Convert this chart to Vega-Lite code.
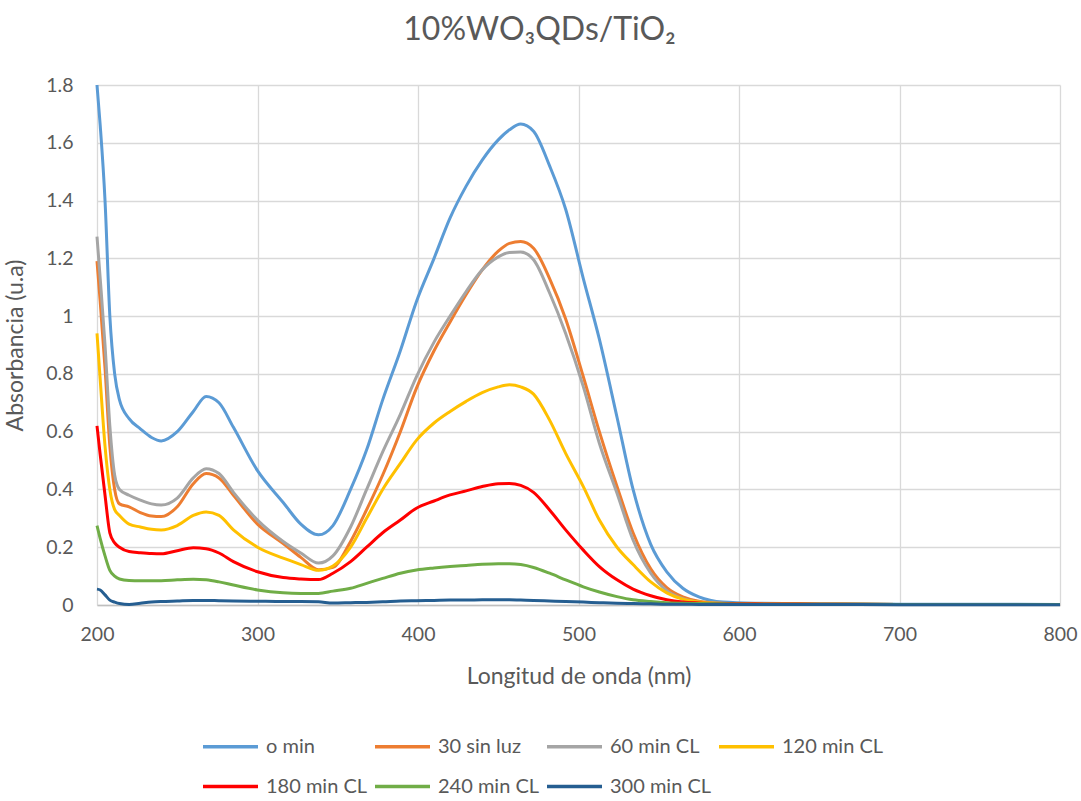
{
"$schema": "https://vega.github.io/schema/vega-lite/v6.json",
"width": 963, "height": 520,
"autosize": {"type": "none"},
"padding": {"left": 97, "top": 85, "right": 21, "bottom": 196},
"background": "white",
"config": {"view": {"stroke": null}, "font": "Lato"},
"title": {"text": "10%WO₃QDs/TiO₂", "font": "Lato", "fontSize": 32, "fontWeight": "normal", "color": "#595959", "anchor": "middle", "frame": "group", "dx": -39, "offset": 28},
"datasets": {"d": [
{"serie":"o min","nm":200,"abs":1.80},{"serie":"o min","nm":202,"abs":1.66},{"serie":"o min","nm":205,"abs":1.40},{"serie":"o min","nm":208,"abs":1.00},{"serie":"o min","nm":211,"abs":0.80},{"serie":"o min","nm":214,"abs":0.71},{"serie":"o min","nm":220,"abs":0.645},{"serie":"o min","nm":227,"abs":0.61},{"serie":"o min","nm":234,"abs":0.58},{"serie":"o min","nm":240,"abs":0.568},{"serie":"o min","nm":250,"abs":0.60},{"serie":"o min","nm":260,"abs":0.67},{"serie":"o min","nm":268,"abs":0.722},{"serie":"o min","nm":276,"abs":0.70},{"serie":"o min","nm":285,"abs":0.615},{"serie":"o min","nm":300,"abs":0.465},{"serie":"o min","nm":316,"abs":0.355},{"serie":"o min","nm":327,"abs":0.28},{"serie":"o min","nm":338,"abs":0.243},{"serie":"o min","nm":347,"abs":0.275},{"serie":"o min","nm":358,"abs":0.40},{"serie":"o min","nm":368,"abs":0.537},{"serie":"o min","nm":378,"abs":0.71},{"serie":"o min","nm":389,"abs":0.88},{"serie":"o min","nm":399,"abs":1.05},{"serie":"o min","nm":410,"abs":1.20},{"serie":"o min","nm":420,"abs":1.34},{"serie":"o min","nm":430,"abs":1.45},{"serie":"o min","nm":440,"abs":1.54},{"serie":"o min","nm":450,"abs":1.61},{"serie":"o min","nm":457,"abs":1.645},{"serie":"o min","nm":464,"abs":1.665},{"serie":"o min","nm":472,"abs":1.64},{"serie":"o min","nm":482,"abs":1.52},{"serie":"o min","nm":492,"abs":1.37},{"serie":"o min","nm":503,"abs":1.13},{"serie":"o min","nm":513,"abs":0.92},{"serie":"o min","nm":524,"abs":0.65},{"serie":"o min","nm":534,"abs":0.40},{"serie":"o min","nm":545,"abs":0.21},{"serie":"o min","nm":555,"abs":0.115},{"serie":"o min","nm":565,"abs":0.058},{"serie":"o min","nm":575,"abs":0.028},{"serie":"o min","nm":590,"abs":0.01},{"serie":"o min","nm":610,"abs":0.006},{"serie":"o min","nm":650,"abs":0.004},{"serie":"o min","nm":700,"abs":0.003},{"serie":"o min","nm":750,"abs":0.003},{"serie":"o min","nm":800,"abs":0.002},
{"serie":"30 sin luz","nm":200,"abs":1.19},{"serie":"30 sin luz","nm":202,"abs":1.05},{"serie":"30 sin luz","nm":205,"abs":0.82},{"serie":"30 sin luz","nm":208,"abs":0.55},{"serie":"30 sin luz","nm":211,"abs":0.40},{"serie":"30 sin luz","nm":214,"abs":0.35},{"serie":"30 sin luz","nm":220,"abs":0.34},{"serie":"30 sin luz","nm":227,"abs":0.32},{"serie":"30 sin luz","nm":234,"abs":0.308},{"serie":"30 sin luz","nm":240,"abs":0.306},{"serie":"30 sin luz","nm":250,"abs":0.34},{"serie":"30 sin luz","nm":260,"abs":0.42},{"serie":"30 sin luz","nm":268,"abs":0.455},{"serie":"30 sin luz","nm":276,"abs":0.44},{"serie":"30 sin luz","nm":285,"abs":0.38},{"serie":"30 sin luz","nm":300,"abs":0.28},{"serie":"30 sin luz","nm":316,"abs":0.213},{"serie":"30 sin luz","nm":327,"abs":0.165},{"serie":"30 sin luz","nm":338,"abs":0.122},{"serie":"30 sin luz","nm":347,"abs":0.13},{"serie":"30 sin luz","nm":358,"abs":0.22},{"serie":"30 sin luz","nm":368,"abs":0.33},{"serie":"30 sin luz","nm":378,"abs":0.45},{"serie":"30 sin luz","nm":389,"abs":0.60},{"serie":"30 sin luz","nm":399,"abs":0.75},{"serie":"30 sin luz","nm":410,"abs":0.88},{"serie":"30 sin luz","nm":420,"abs":0.98},{"serie":"30 sin luz","nm":430,"abs":1.075},{"serie":"30 sin luz","nm":440,"abs":1.16},{"serie":"30 sin luz","nm":450,"abs":1.225},{"serie":"30 sin luz","nm":457,"abs":1.252},{"serie":"30 sin luz","nm":464,"abs":1.258},{"serie":"30 sin luz","nm":472,"abs":1.235},{"serie":"30 sin luz","nm":482,"abs":1.13},{"serie":"30 sin luz","nm":492,"abs":0.99},{"serie":"30 sin luz","nm":503,"abs":0.79},{"serie":"30 sin luz","nm":513,"abs":0.60},{"serie":"30 sin luz","nm":524,"abs":0.41},{"serie":"30 sin luz","nm":534,"abs":0.25},{"serie":"30 sin luz","nm":545,"abs":0.125},{"serie":"30 sin luz","nm":555,"abs":0.06},{"serie":"30 sin luz","nm":565,"abs":0.028},{"serie":"30 sin luz","nm":575,"abs":0.013},{"serie":"30 sin luz","nm":590,"abs":0.006},{"serie":"30 sin luz","nm":610,"abs":0.004},{"serie":"30 sin luz","nm":650,"abs":0.003},{"serie":"30 sin luz","nm":700,"abs":0.002},{"serie":"30 sin luz","nm":750,"abs":0.002},{"serie":"30 sin luz","nm":800,"abs":0.002},
{"serie":"60 min CL","nm":200,"abs":1.275},{"serie":"60 min CL","nm":202,"abs":1.13},{"serie":"60 min CL","nm":205,"abs":0.90},{"serie":"60 min CL","nm":208,"abs":0.62},{"serie":"60 min CL","nm":211,"abs":0.45},{"serie":"60 min CL","nm":214,"abs":0.40},{"serie":"60 min CL","nm":220,"abs":0.38},{"serie":"60 min CL","nm":227,"abs":0.363},{"serie":"60 min CL","nm":234,"abs":0.35},{"serie":"60 min CL","nm":240,"abs":0.346},{"serie":"60 min CL","nm":250,"abs":0.37},{"serie":"60 min CL","nm":260,"abs":0.44},{"serie":"60 min CL","nm":268,"abs":0.472},{"serie":"60 min CL","nm":276,"abs":0.455},{"serie":"60 min CL","nm":285,"abs":0.39},{"serie":"60 min CL","nm":300,"abs":0.294},{"serie":"60 min CL","nm":316,"abs":0.22},{"serie":"60 min CL","nm":327,"abs":0.18},{"serie":"60 min CL","nm":338,"abs":0.145},{"serie":"60 min CL","nm":347,"abs":0.17},{"serie":"60 min CL","nm":358,"abs":0.27},{"serie":"60 min CL","nm":368,"abs":0.40},{"serie":"60 min CL","nm":378,"abs":0.53},{"serie":"60 min CL","nm":389,"abs":0.66},{"serie":"60 min CL","nm":399,"abs":0.79},{"serie":"60 min CL","nm":410,"abs":0.91},{"serie":"60 min CL","nm":420,"abs":1.00},{"serie":"60 min CL","nm":430,"abs":1.085},{"serie":"60 min CL","nm":440,"abs":1.16},{"serie":"60 min CL","nm":450,"abs":1.205},{"serie":"60 min CL","nm":457,"abs":1.22},{"serie":"60 min CL","nm":464,"abs":1.222},{"serie":"60 min CL","nm":472,"abs":1.195},{"serie":"60 min CL","nm":482,"abs":1.08},{"serie":"60 min CL","nm":492,"abs":0.94},{"serie":"60 min CL","nm":503,"abs":0.756},{"serie":"60 min CL","nm":513,"abs":0.56},{"serie":"60 min CL","nm":524,"abs":0.387},{"serie":"60 min CL","nm":534,"abs":0.225},{"serie":"60 min CL","nm":545,"abs":0.11},{"serie":"60 min CL","nm":555,"abs":0.05},{"serie":"60 min CL","nm":565,"abs":0.022},{"serie":"60 min CL","nm":575,"abs":0.01},{"serie":"60 min CL","nm":590,"abs":0.005},{"serie":"60 min CL","nm":610,"abs":0.004},{"serie":"60 min CL","nm":650,"abs":0.003},{"serie":"60 min CL","nm":700,"abs":0.002},{"serie":"60 min CL","nm":750,"abs":0.002},{"serie":"60 min CL","nm":800,"abs":0.002},
{"serie":"120 min CL","nm":200,"abs":0.94},{"serie":"120 min CL","nm":202,"abs":0.78},{"serie":"120 min CL","nm":205,"abs":0.55},{"serie":"120 min CL","nm":208,"abs":0.40},{"serie":"120 min CL","nm":211,"abs":0.33},{"serie":"120 min CL","nm":214,"abs":0.31},{"serie":"120 min CL","nm":220,"abs":0.28},{"serie":"120 min CL","nm":227,"abs":0.27},{"serie":"120 min CL","nm":234,"abs":0.262},{"serie":"120 min CL","nm":240,"abs":0.26},{"serie":"120 min CL","nm":250,"abs":0.275},{"serie":"120 min CL","nm":260,"abs":0.31},{"serie":"120 min CL","nm":268,"abs":0.322},{"serie":"120 min CL","nm":276,"abs":0.31},{"serie":"120 min CL","nm":285,"abs":0.26},{"serie":"120 min CL","nm":300,"abs":0.20},{"serie":"120 min CL","nm":316,"abs":0.162},{"serie":"120 min CL","nm":327,"abs":0.14},{"serie":"120 min CL","nm":338,"abs":0.12},{"serie":"120 min CL","nm":347,"abs":0.135},{"serie":"120 min CL","nm":358,"abs":0.20},{"serie":"120 min CL","nm":368,"abs":0.30},{"serie":"120 min CL","nm":378,"abs":0.40},{"serie":"120 min CL","nm":389,"abs":0.49},{"serie":"120 min CL","nm":399,"abs":0.57},{"serie":"120 min CL","nm":410,"abs":0.63},{"serie":"120 min CL","nm":420,"abs":0.67},{"serie":"120 min CL","nm":430,"abs":0.705},{"serie":"120 min CL","nm":440,"abs":0.735},{"serie":"120 min CL","nm":450,"abs":0.755},{"serie":"120 min CL","nm":457,"abs":0.762},{"serie":"120 min CL","nm":464,"abs":0.755},{"serie":"120 min CL","nm":472,"abs":0.73},{"serie":"120 min CL","nm":482,"abs":0.64},{"serie":"120 min CL","nm":492,"abs":0.525},{"serie":"120 min CL","nm":503,"abs":0.41},{"serie":"120 min CL","nm":513,"abs":0.294},{"serie":"120 min CL","nm":524,"abs":0.20},{"serie":"120 min CL","nm":534,"abs":0.14},{"serie":"120 min CL","nm":545,"abs":0.08},{"serie":"120 min CL","nm":555,"abs":0.042},{"serie":"120 min CL","nm":565,"abs":0.02},{"serie":"120 min CL","nm":575,"abs":0.01},{"serie":"120 min CL","nm":590,"abs":0.005},{"serie":"120 min CL","nm":610,"abs":0.004},{"serie":"120 min CL","nm":650,"abs":0.003},{"serie":"120 min CL","nm":700,"abs":0.002},{"serie":"120 min CL","nm":750,"abs":0.002},{"serie":"120 min CL","nm":800,"abs":0.002},
{"serie":"180 min CL","nm":200,"abs":0.62},{"serie":"180 min CL","nm":202,"abs":0.52},{"serie":"180 min CL","nm":205,"abs":0.38},{"serie":"180 min CL","nm":208,"abs":0.25},{"serie":"180 min CL","nm":211,"abs":0.215},{"serie":"180 min CL","nm":214,"abs":0.20},{"serie":"180 min CL","nm":220,"abs":0.185},{"serie":"180 min CL","nm":227,"abs":0.181},{"serie":"180 min CL","nm":234,"abs":0.178},{"serie":"180 min CL","nm":240,"abs":0.177},{"serie":"180 min CL","nm":250,"abs":0.188},{"serie":"180 min CL","nm":260,"abs":0.198},{"serie":"180 min CL","nm":268,"abs":0.195},{"serie":"180 min CL","nm":276,"abs":0.18},{"serie":"180 min CL","nm":285,"abs":0.15},{"serie":"180 min CL","nm":300,"abs":0.115},{"serie":"180 min CL","nm":316,"abs":0.095},{"serie":"180 min CL","nm":327,"abs":0.09},{"serie":"180 min CL","nm":338,"abs":0.088},{"serie":"180 min CL","nm":347,"abs":0.11},{"serie":"180 min CL","nm":358,"abs":0.15},{"serie":"180 min CL","nm":368,"abs":0.20},{"serie":"180 min CL","nm":378,"abs":0.25},{"serie":"180 min CL","nm":389,"abs":0.294},{"serie":"180 min CL","nm":399,"abs":0.335},{"serie":"180 min CL","nm":410,"abs":0.36},{"serie":"180 min CL","nm":420,"abs":0.381},{"serie":"180 min CL","nm":430,"abs":0.395},{"serie":"180 min CL","nm":440,"abs":0.41},{"serie":"180 min CL","nm":450,"abs":0.42},{"serie":"180 min CL","nm":457,"abs":0.421},{"serie":"180 min CL","nm":464,"abs":0.414},{"serie":"180 min CL","nm":472,"abs":0.39},{"serie":"180 min CL","nm":482,"abs":0.329},{"serie":"180 min CL","nm":492,"abs":0.26},{"serie":"180 min CL","nm":503,"abs":0.19},{"serie":"180 min CL","nm":513,"abs":0.133},{"serie":"180 min CL","nm":524,"abs":0.087},{"serie":"180 min CL","nm":534,"abs":0.055},{"serie":"180 min CL","nm":545,"abs":0.032},{"serie":"180 min CL","nm":555,"abs":0.018},{"serie":"180 min CL","nm":565,"abs":0.01},{"serie":"180 min CL","nm":575,"abs":0.007},{"serie":"180 min CL","nm":590,"abs":0.005},{"serie":"180 min CL","nm":610,"abs":0.004},{"serie":"180 min CL","nm":650,"abs":0.003},{"serie":"180 min CL","nm":700,"abs":0.002},{"serie":"180 min CL","nm":750,"abs":0.002},{"serie":"180 min CL","nm":800,"abs":0.002},
{"serie":"240 min CL","nm":200,"abs":0.275},{"serie":"240 min CL","nm":202,"abs":0.23},{"serie":"240 min CL","nm":205,"abs":0.17},{"serie":"240 min CL","nm":208,"abs":0.12},{"serie":"240 min CL","nm":211,"abs":0.10},{"serie":"240 min CL","nm":214,"abs":0.09},{"serie":"240 min CL","nm":220,"abs":0.085},{"serie":"240 min CL","nm":227,"abs":0.084},{"serie":"240 min CL","nm":234,"abs":0.084},{"serie":"240 min CL","nm":240,"abs":0.084},{"serie":"240 min CL","nm":250,"abs":0.087},{"serie":"240 min CL","nm":260,"abs":0.089},{"serie":"240 min CL","nm":268,"abs":0.087},{"serie":"240 min CL","nm":276,"abs":0.08},{"serie":"240 min CL","nm":285,"abs":0.069},{"serie":"240 min CL","nm":300,"abs":0.052},{"serie":"240 min CL","nm":316,"abs":0.042},{"serie":"240 min CL","nm":327,"abs":0.04},{"serie":"240 min CL","nm":338,"abs":0.04},{"serie":"240 min CL","nm":347,"abs":0.048},{"serie":"240 min CL","nm":358,"abs":0.058},{"serie":"240 min CL","nm":368,"abs":0.075},{"serie":"240 min CL","nm":378,"abs":0.092},{"serie":"240 min CL","nm":389,"abs":0.11},{"serie":"240 min CL","nm":399,"abs":0.121},{"serie":"240 min CL","nm":410,"abs":0.128},{"serie":"240 min CL","nm":420,"abs":0.133},{"serie":"240 min CL","nm":430,"abs":0.137},{"serie":"240 min CL","nm":440,"abs":0.141},{"serie":"240 min CL","nm":450,"abs":0.143},{"serie":"240 min CL","nm":457,"abs":0.143},{"serie":"240 min CL","nm":464,"abs":0.14},{"serie":"240 min CL","nm":472,"abs":0.13},{"serie":"240 min CL","nm":482,"abs":0.11},{"serie":"240 min CL","nm":492,"abs":0.087},{"serie":"240 min CL","nm":503,"abs":0.063},{"serie":"240 min CL","nm":513,"abs":0.045},{"serie":"240 min CL","nm":524,"abs":0.029},{"serie":"240 min CL","nm":534,"abs":0.018},{"serie":"240 min CL","nm":545,"abs":0.012},{"serie":"240 min CL","nm":555,"abs":0.008},{"serie":"240 min CL","nm":565,"abs":0.006},{"serie":"240 min CL","nm":575,"abs":0.005},{"serie":"240 min CL","nm":590,"abs":0.004},{"serie":"240 min CL","nm":610,"abs":0.003},{"serie":"240 min CL","nm":650,"abs":0.003},{"serie":"240 min CL","nm":700,"abs":0.002},{"serie":"240 min CL","nm":750,"abs":0.002},{"serie":"240 min CL","nm":800,"abs":0.002},
{"serie":"300 min CL","nm":200,"abs":0.055},{"serie":"300 min CL","nm":202,"abs":0.052},{"serie":"300 min CL","nm":205,"abs":0.035},{"serie":"300 min CL","nm":208,"abs":0.017},{"serie":"300 min CL","nm":211,"abs":0.01},{"serie":"300 min CL","nm":214,"abs":0.005},{"serie":"300 min CL","nm":220,"abs":0.002},{"serie":"300 min CL","nm":227,"abs":0.006},{"serie":"300 min CL","nm":234,"abs":0.01},{"serie":"300 min CL","nm":240,"abs":0.012},{"serie":"300 min CL","nm":250,"abs":0.014},{"serie":"300 min CL","nm":260,"abs":0.016},{"serie":"300 min CL","nm":268,"abs":0.016},{"serie":"300 min CL","nm":276,"abs":0.015},{"serie":"300 min CL","nm":285,"abs":0.014},{"serie":"300 min CL","nm":300,"abs":0.013},{"serie":"300 min CL","nm":316,"abs":0.012},{"serie":"300 min CL","nm":327,"abs":0.012},{"serie":"300 min CL","nm":338,"abs":0.011},{"serie":"300 min CL","nm":347,"abs":0.007},{"serie":"300 min CL","nm":358,"abs":0.008},{"serie":"300 min CL","nm":368,"abs":0.009},{"serie":"300 min CL","nm":378,"abs":0.011},{"serie":"300 min CL","nm":389,"abs":0.014},{"serie":"300 min CL","nm":399,"abs":0.015},{"serie":"300 min CL","nm":410,"abs":0.016},{"serie":"300 min CL","nm":420,"abs":0.017},{"serie":"300 min CL","nm":430,"abs":0.017},{"serie":"300 min CL","nm":440,"abs":0.018},{"serie":"300 min CL","nm":450,"abs":0.018},{"serie":"300 min CL","nm":457,"abs":0.018},{"serie":"300 min CL","nm":464,"abs":0.017},{"serie":"300 min CL","nm":472,"abs":0.016},{"serie":"300 min CL","nm":482,"abs":0.014},{"serie":"300 min CL","nm":492,"abs":0.012},{"serie":"300 min CL","nm":503,"abs":0.01},{"serie":"300 min CL","nm":513,"abs":0.008},{"serie":"300 min CL","nm":524,"abs":0.006},{"serie":"300 min CL","nm":534,"abs":0.005},{"serie":"300 min CL","nm":545,"abs":0.004},{"serie":"300 min CL","nm":555,"abs":0.003},{"serie":"300 min CL","nm":565,"abs":0.003},{"serie":"300 min CL","nm":575,"abs":0.002},{"serie":"300 min CL","nm":590,"abs":0.002},{"serie":"300 min CL","nm":610,"abs":0.002},{"serie":"300 min CL","nm":650,"abs":0.002},{"serie":"300 min CL","nm":700,"abs":0.001},{"serie":"300 min CL","nm":750,"abs":0.001},{"serie":"300 min CL","nm":800,"abs":0.001}
]},
"data": {"name": "d"},
"mark": {"type": "line", "strokeWidth": 3, "interpolate": "monotone"},
"encoding": {
"x": {"field": "nm", "type": "quantitative", "scale": {"domain": [200, 800], "nice": false},
"axis": {"title": "Longitud de onda (nm)", "values": [200, 300, 400, 500, 600, 700, 800], "labelFlush": false, "grid": true, "gridColor": "#d9d9d9", "gridWidth": 1.3, "domainColor": "#bfbfbf", "domainWidth": 1.5, "ticks": false, "labelFont": "Lato", "labelFontSize": 19.5, "labelColor": "#595959", "labelPadding": 20, "titleFont": "Lato", "titleFontSize": 23, "titleFontWeight": "normal", "titleColor": "#595959", "titlePadding": 22}},
"y": {"field": "abs", "type": "quantitative", "scale": {"domain": [0, 1.8], "nice": false},
"axis": {"title": "Absorbancia (u.a)", "values": [0, 0.2, 0.4, 0.6, 0.8, 1, 1.2, 1.4, 1.6, 1.8], "format": ".1~f", "labelFlush": false, "grid": true, "gridColor": "#d9d9d9", "gridWidth": 1.3, "domain": false, "ticks": false, "labelFont": "Lato", "labelFontSize": 19.5, "labelColor": "#595959", "labelPadding": 24, "titleFont": "Lato", "titleFontSize": 23, "titleFontWeight": "normal", "titleColor": "#595959", "titlePadding": 18}},
"color": {"field": "serie", "type": "nominal",
"scale": {"domain": ["o min", "30 sin luz", "60 min CL", "120 min CL", "180 min CL", "240 min CL", "300 min CL"], "range": ["#5B9BD5", "#ED7D31", "#A5A5A5", "#FFC000", "#FF0000", "#70AD47", "#255E91"]},
"legend": {"title": null, "orient": "none", "legendX": 104, "legendY": 632, "direction": "horizontal", "columns": 4, "symbolType": "stroke", "symbolSize": 3025, "symbolStrokeWidth": 3.5, "labelFont": "Lato", "labelFontSize": 20, "labelColor": "#595959", "labelOffset": 6, "rowPadding": -2, "columnPadding": 0, "padding": 0}}
}
}
